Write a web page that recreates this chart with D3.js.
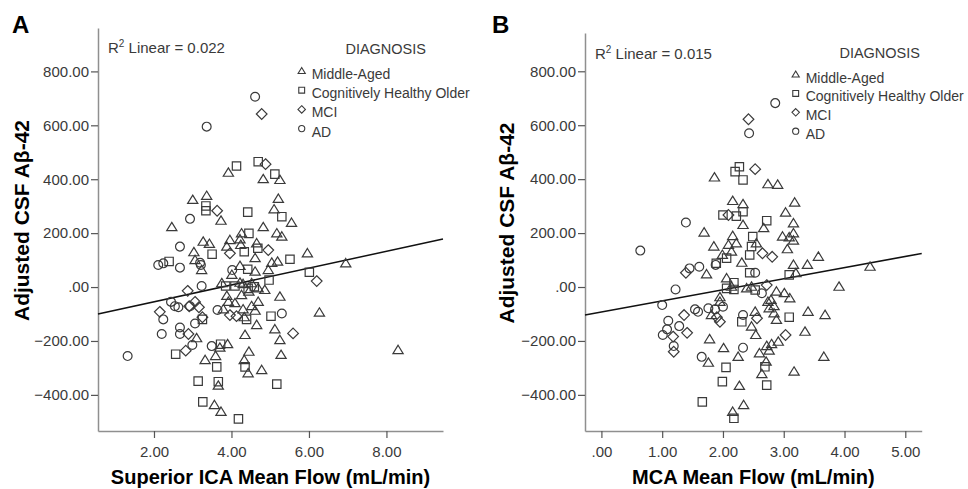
<!DOCTYPE html>
<html>
<head>
<meta charset="utf-8">
<script src="https://cdn.jsdelivr.net/npm/d3@7"></script>
<style>
  body { margin: 0; background: #fff; }
  svg { display: block; font-family: "Liberation Sans", Arial, sans-serif; }
</style>
</head>
<body>
<svg id="chart" width="968" height="489"></svg>
<script>
// ---- data: [flow, adjusted CSF Abeta-42] per diagnosis group ----
const groups = ["Middle-Aged", "Cognitively Healthy Older", "MCI", "AD"];
const yTicks = [-400, -200, 0, 200, 400, 600, 800];

// Panel A: superior ICA mean flow
const icaTicks = [2, 4, 6, 8];
const icaMiddleAged = [[3.92,424],[4.82,400],[5.25,397],[3.00,323],[3.36,338],[3.73,246],[5.21,327],[5.10,288],[2.46,222],[5.55,238],[4.82,222],[5.17,199],[5.30,187],[4.26,199],[3.96,174],[4.22,177],[3.27,168],[3.43,160],[3.03,129],[4.65,162],[4.24,156],[3.88,150],[4.61,107],[5.04,90],[5.19,94],[3.06,100],[3.23,63],[4.01,45],[4.22,78],[4.61,57],[4.95,63],[3.75,14],[4.22,16],[4.30,11],[4.52,14],[4.69,-5],[4.86,-11],[4.45,-17],[3.88,-33],[4.26,-30],[5.25,-36],[3.92,-55],[4.09,-60],[4.69,-55],[4.52,-71],[4.30,-83],[4.61,-88],[3.79,-83],[4.33,-112],[4.65,-141],[5.12,-157],[3.10,-190],[4.35,-178],[5.25,-197],[3.90,-212],[3.70,-225],[4.45,-240],[5.28,-252],[3.32,-271],[3.59,-256],[4.33,-271],[4.43,-320],[4.78,-308],[3.66,-366],[3.56,-438],[3.73,-463],[5.96,125],[6.95,88],[6.27,-95],[8.30,-234]];
const icaHealthyOlder = [[4.13,449],[4.69,465],[5.12,419],[3.34,301],[3.34,283],[4.42,278],[5.30,261],[4.45,199],[3.50,122],[4.33,131],[4.68,144],[2.39,95],[4.42,66],[4.97,26],[3.85,4],[4.09,4],[4.43,-5],[4.59,1],[4.39,-120],[3.25,-120],[5.02,-108],[2.56,-249],[3.72,-212],[3.62,-296],[4.35,-296],[3.14,-349],[3.66,-351],[5.17,-360],[3.26,-426],[4.18,-489],[5.51,103],[6.01,55]];
const icaMCI = [[4.78,642],[4.88,456],[3.63,283],[3.96,125],[4.95,137],[2.87,-14],[3.06,-55],[2.91,-71],[3.16,-75],[3.96,-104],[4.13,-108],[2.15,-92],[3.25,-112],[2.89,-174],[2.82,-236],[6.20,22],[5.59,-172]];
const icaAD = [[4.61,706],[3.36,595],[2.93,253],[2.67,150],[2.11,82],[2.24,88],[2.67,72],[3.19,90],[3.21,82],[4.02,63],[3.23,4],[2.44,-55],[2.54,-71],[2.63,-75],[2.93,-71],[3.64,-85],[2.24,-120],[3.06,-135],[5.30,-98],[2.20,-174],[2.67,-150],[2.67,-174],[2.99,-215],[3.49,-219],[1.32,-256]];
const icaFit = { intercept: -117, slope: 31.2, r2: "0.022" };

// Panel B: MCA mean flow
const mcaTicks = [0, 1, 2, 3, 4, 5];
const mcaMiddleAged = [[1.86,406],[2.74,381],[2.90,379],[2.16,319],[2.33,307],[2.33,230],[2.67,218],[3.18,313],[3.03,276],[3.16,236],[1.69,202],[2.16,189],[2.22,162],[2.09,156],[1.85,150],[2.55,162],[2.14,131],[1.99,119],[2.31,90],[1.73,47],[2.06,32],[2.14,1],[2.39,-5],[2.47,1],[1.95,-38],[1.95,-55],[1.81,-104],[2.53,-92],[2.47,-147],[2.54,-178],[2.74,-55],[1.78,-194],[2.01,-227],[2.25,-259],[2.60,-246],[2.72,-219],[1.76,-281],[2.64,-323],[2.71,-277],[2.27,-367],[2.34,-438],[2.16,-463],[3.16,199],[2.98,187],[3.09,184],[3.16,172],[3.06,140],[3.57,112],[3.39,82],[3.16,82],[4.42,75],[3.20,51],[3.91,1],[2.88,-17],[3.01,-23],[3.10,-42],[2.79,-48],[2.84,-71],[2.76,-79],[2.84,-98],[2.88,-122],[3.40,-92],[3.68,-104],[3.35,-166],[2.91,-203],[2.80,-212],[2.76,-236],[3.66,-259],[3.17,-314]];
const mcaHealthyOlder = [[2.20,428],[2.27,446],[2.33,397],[2.00,267],[2.22,263],[2.33,279],[2.72,246],[2.49,187],[2.47,150],[2.44,119],[2.06,107],[1.89,88],[2.44,53],[2.18,16],[2.06,-5],[2.18,-9],[2.53,-11],[2.31,-129],[2.05,-298],[2.69,-296],[1.99,-351],[2.72,-364],[1.66,-426],[2.18,-487],[3.09,45],[3.09,-112]];
const mcaMCI = [[2.42,622],[2.53,437],[2.09,267],[2.65,125],[1.39,53],[2.72,7],[1.90,-112],[1.95,-129],[1.36,-104],[1.41,-170],[1.18,-184],[2.56,-116],[1.19,-240],[2.81,112],[3.03,-178]];
const mcaAD = [[2.43,570],[1.39,239],[2.86,682],[0.64,135],[1.88,82],[1.61,75],[1.45,69],[2.53,53],[2.64,-23],[1.22,-9],[2.00,-73],[1.87,-83],[1.00,-67],[1.54,-83],[1.59,-92],[1.76,-79],[1.10,-125],[1.28,-145],[1.08,-157],[1.01,-178],[2.33,-104],[1.19,-219],[2.33,-225],[1.65,-259]];
const mcaFit = { intercept: -93, slope: 41.3, r2: "0.015" };

// ---- drawing ----
const svg = d3.select("#chart");
const ink = "#3a3a3a";
const axisGrey = "#8f8f8f";

// marker shapes, all hollow
function marker(shape, s) {
  const h = s / 2;
  if (shape === 0) return `M0,${-h * 1.05}L${h * 1.1},${h * 0.75}L${-h * 1.1},${h * 0.75}Z`;
  if (shape === 1) return `M${-h * 0.9},${-h * 0.9}H${h * 0.9}V${h * 0.9}H${-h * 0.9}Z`;
  if (shape === 2) return `M0,${-h * 1.15}L${h * 1.15},0L0,${h * 1.15}L${-h * 1.15},0Z`;
  const r = h * 0.95;
  return `M${r},0A${r},${r} 0 1,1 ${-r},0A${r},${r} 0 1,1 ${r},0Z`;
}

function fmt(v) {
  return d3.format(".2f")(v).replace(/^0\./, ".");
}

function drawPanel(p) {
  const x = d3.scaleLinear().domain(p.xDomain).range([p.left, p.right]);
  const y = d3.scaleLinear().domain(p.yDomain).range([p.bottom, p.top]);
  const g = svg.append("g");

  const yAxis = g.append("g")
    .attr("transform", `translate(${p.left},0)`)
    .call(d3.axisLeft(y).tickValues(yTicks).tickFormat(fmt).tickSize(7).tickSizeOuter(0).tickPadding(2));
  const xAxis = g.append("g")
    .attr("transform", `translate(0,${p.bottom})`)
    .call(d3.axisBottom(x).tickValues(p.xTicks).tickFormat(fmt).tickSize(7).tickSizeOuter(0).tickPadding(8));
  [yAxis, xAxis].forEach(a => {
    a.select(".domain").attr("stroke", axisGrey).attr("stroke-width", 1.5);
    a.selectAll(".tick line").attr("stroke", "#555").attr("stroke-width", 1.2);
    a.selectAll(".tick text").attr("fill", ink).attr("font-size", 15).attr("font-family", "Liberation Sans, Arial, sans-serif");
  });

  // fit line across the whole x range
  const xs = x.domain();
  g.append("line")
    .attr("x1", x(xs[0])).attr("y1", y(p.fit.intercept + p.fit.slope * xs[0]))
    .attr("x2", x(xs[1])).attr("y2", y(p.fit.intercept + p.fit.slope * xs[1]))
    .attr("stroke", "#111").attr("stroke-width", 1.5);

  p.series.forEach((pts, i) => {
    g.selectAll(null).data(pts).enter().append("path")
      .attr("d", marker(i, 9.3))
      .attr("transform", d => `translate(${x(d[0])},${y(d[1])})`)
      .attr("fill", "none").attr("stroke", ink).attr("stroke-width", 1.2);
  });

  // R2 annotation
  const r2 = g.append("text").attr("x", p.r2x).attr("y", p.r2y)
    .attr("font-size", 15).attr("fill", ink);
  r2.append("tspan").text("R");
  r2.append("tspan").attr("dy", -6).attr("font-size", 10).text("2");
  r2.append("tspan").attr("dy", 6).text(" Linear = " + p.fit.r2);

  // legend
  g.append("text").attr("x", p.legX + 74).attr("y", p.legY - 25)
    .attr("text-anchor", "middle").attr("font-size", 14.5).attr("fill", ink).text("DIAGNOSIS");
  groups.forEach((name, i) => {
    const by = p.legY + i * p.legStep;
    g.append("path").attr("d", marker(i, 6.5))
      .attr("transform", `translate(${p.legX - 10},${by - 8})`)
      .attr("fill", "none").attr("stroke", ink).attr("stroke-width", 1.1);
    g.append("text").attr("x", p.legX).attr("y", by)
      .attr("font-size", 14).attr("fill", ink).text(name);
  });

  // titles
  g.append("text").attr("x", p.letterX).attr("y", 33)
    .attr("font-size", 24).attr("font-weight", "bold").attr("fill", "#000").text(p.letter);
  g.append("text")
    .attr("transform", `translate(${p.yTitleX},${(p.top + p.bottom) / 2 - 9}) rotate(-90)`)
    .attr("text-anchor", "middle").attr("font-size", 21).attr("font-weight", "bold").attr("fill", "#000")
    .text("Adjusted CSF Aβ-42");
  g.append("text")
    .attr("x", (p.left + p.right) / 2 + p.xTitleShift).attr("y", 484)
    .attr("text-anchor", "middle").attr("font-size", 20).attr("font-weight", "bold").attr("fill", "#000")
    .text(p.xTitle);
}

drawPanel({
  letter: "A", letterX: 12, yTitleX: 29,
  left: 98, right: 443, top: 28, bottom: 431,
  xDomain: [0.555, 9.46], yDomain: [-534, 961], xTicks: icaTicks,
  series: [icaMiddleAged, icaHealthyOlder, icaMCI, icaAD], fit: icaFit,
  r2x: 108, r2y: 53, legX: 311.7, legY: 79, legStep: 19.2,
  xTitle: "Superior ICA Mean Flow (mL/min)", xTitleShift: 0
});

drawPanel({
  letter: "B", letterX: 492, yTitleX: 514,
  left: 585, right: 921.7, top: 33, bottom: 431,
  xDomain: [-0.27, 5.27], yDomain: [-534, 942], xTicks: mcaTicks,
  series: [mcaMiddleAged, mcaHealthyOlder, mcaMCI, mcaAD], fit: mcaFit,
  r2x: 595, r2y: 59, legX: 805.7, legY: 82.5, legStep: 18.9,
  xTitle: "MCA Mean Flow (mL/min)", xTitleShift: 0
});
</script>
</body>
</html>
